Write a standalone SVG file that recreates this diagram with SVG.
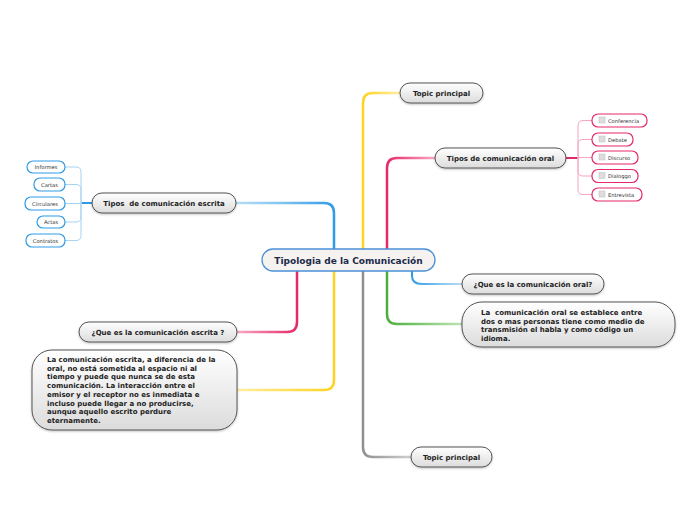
<svg xmlns="http://www.w3.org/2000/svg" width="696" height="520" viewBox="0 0 696 520">
<defs>
<linearGradient id="nodeFill" x1="0" y1="0" x2="0" y2="1">
<stop offset="0" stop-color="#ffffff"/><stop offset="1" stop-color="#dcdcdc"/>
</linearGradient>
<linearGradient id="gBlueL" x1="1" y1="0" x2="0" y2="0"><stop offset="0" stop-color="#2e9be6"/><stop offset="0.5" stop-color="#7cc1f0"/><stop offset="1" stop-color="#b8dcf5"/></linearGradient>
<linearGradient id="gBlueR" x1="0" y1="0" x2="1" y2="0"><stop offset="0" stop-color="#2e9be6"/><stop offset="0.5" stop-color="#7cc1f0"/><stop offset="1" stop-color="#b8dcf5"/></linearGradient>
<linearGradient id="gYelR" x1="0" y1="0" x2="1" y2="0"><stop offset="0" stop-color="#ffd21f"/><stop offset="1" stop-color="#ffeea0"/></linearGradient>
<linearGradient id="gYelL" x1="1" y1="0" x2="0" y2="0"><stop offset="0" stop-color="#ffd21f"/><stop offset="1" stop-color="#ffeea0"/></linearGradient>
<linearGradient id="gPinkR" x1="0" y1="0" x2="1" y2="0"><stop offset="0" stop-color="#e5286a"/><stop offset="1" stop-color="#f7a8c3"/></linearGradient>
<linearGradient id="gPinkL" x1="1" y1="0" x2="0" y2="0"><stop offset="0" stop-color="#e5286a"/><stop offset="1" stop-color="#f7a8c3"/></linearGradient>
<linearGradient id="gGreen" x1="0" y1="0" x2="1" y2="0"><stop offset="0" stop-color="#4caf3c"/><stop offset="1" stop-color="#bfe3b5"/></linearGradient>
<linearGradient id="gGray" x1="0" y1="0" x2="1" y2="0"><stop offset="0" stop-color="#8f8f8f"/><stop offset="1" stop-color="#cfcfcf"/></linearGradient>
<filter id="sh" x="-10%" y="-20%" width="120%" height="150%"><feDropShadow dx="0" dy="1" stdDeviation="0.8" flood-color="#000" flood-opacity="0.25"/></filter>
</defs>
<style>
.node rect{fill:url(#nodeFill);stroke:#555;stroke-width:1;filter:url(#sh)}
.t{font-family:"DejaVu Sans",Verdana,sans-serif;font-weight:bold;fill:#222;font-size:7px}
.c{text-anchor:middle}
.sub rect.b{fill:#fff;stroke-width:1.2}
.sb rect.b{stroke:#2e9be6}
.sp rect.b{stroke:#e5286a}
.s{font-family:"DejaVu Sans",Verdana,sans-serif;font-size:5.2px;fill:#333}
.chk{fill:#ddd;stroke:#bbb;stroke-width:0.5}
.conn path{fill:none;stroke-linecap:round}
</style>
<g id="connectors" class="conn">
<path d="M334,249 V213 Q334,203 324,203 H236" stroke="url(#gBlueL)" stroke-width="2.5"/>
<path d="M363,249 V103 Q363,93 373,93 H400" stroke="url(#gYelR)" stroke-width="2.5"/>
<path d="M387,249 V168 Q387,158 397,158 H435" stroke="url(#gPinkR)" stroke-width="2.5"/>
<path d="M412,271 V276 Q412,284 422,284 H462" stroke="url(#gBlueR)" stroke-width="2"/>
<path d="M387,271 V314 Q387,324 397,324 H462" stroke="url(#gGreen)" stroke-width="2.5"/>
<path d="M363,271 V447 Q363,457 373,457 H411" stroke="url(#gGray)" stroke-width="2.5"/>
<path d="M297,271 V322 Q297,332 287,332 H237" stroke="url(#gPinkL)" stroke-width="2.5"/>
<path d="M334,271 V380 Q334,390 324,390 H237" stroke="url(#gYelL)" stroke-width="2.5"/>
<path d="M566,158 H578" stroke="#e5286a" stroke-width="2"/>
<g stroke="#f4a6c0" stroke-width="1">
<path d="M578,158 V126 Q578,120.5 583,120.5 H592"/>
<path d="M578,158 V144 Q578,139.5 583,139.5 H592"/>
<path d="M578,157.5 H592"/>
<path d="M578,158 V171 Q578,176 583,176 H592"/>
<path d="M578,158 V189.5 Q578,194.5 583,194.5 H592"/>
</g>
<path d="M92,203 H82" stroke="#2e9be6" stroke-width="1.8"/>
<g stroke="#a6d3f3" stroke-width="1">
<path d="M81,203 V172 Q81,167 76,167 H65"/>
<path d="M81,203 V189.5 Q81,184.5 76,184.5 H65"/>
<path d="M81,203.5 H65"/>
<path d="M81,203 V217 Q81,222 76,222 H65"/>
<path d="M81,203 V235.5 Q81,240.5 76,240.5 H65"/>
</g>
</g>
<g id="central">
<rect x="262" y="249" width="173" height="22" rx="11" fill="#f5f2f0" stroke="#4a90d9" stroke-width="1.3"/>
<text class="t c" x="348.5" y="263.5" style="font-size:9px;fill:#1b2a4a">Tipologia de la Comunicación</text>
</g>
<g id="topic-top" class="node">
<rect x="400" y="83" width="83" height="20" rx="10"/>
<text class="t c" x="441.5" y="95.5">Topic principal</text>
</g>
<g id="oral-types" class="node">
<rect x="435" y="148" width="131" height="20" rx="10"/>
<text class="t c" x="500.5" y="160.5">Tipos de comunicación oral</text>
</g>
<g id="escrita-types" class="node">
<rect x="92" y="193" width="144" height="20" rx="10"/>
<text class="t c" x="164" y="205.5" xml:space="preserve">Tipos  de comunicación escrita</text>
</g>
<g id="que-oral" class="node">
<rect x="462" y="274" width="142" height="20" rx="10"/>
<text class="t c" x="533" y="286.5">¿Que es la comunicación oral?</text>
</g>
<g id="oral-def" class="node">
<rect x="462" y="302" width="213" height="45" rx="20"/>
<text class="t" x="481" y="315" xml:space="preserve"><tspan x="481">La  comunicación oral se establece entre</tspan><tspan x="481" dy="8.7">dos o mas personas tiene como medio de</tspan><tspan x="481" dy="8.7">transmisión el habla y como código un</tspan><tspan x="481" dy="8.7">idioma.</tspan></text>
</g>
<g id="que-escrita" class="node">
<rect x="79" y="322" width="158" height="20" rx="10"/>
<text class="t c" x="158" y="334.5">¿Que es la comunicación escrita ?</text>
</g>
<g id="escrita-def" class="node">
<rect x="32" y="350" width="205" height="80" rx="20"/>
<text class="t" x="47" y="362"><tspan x="47">La comunicación escrita, a diferencia de la</tspan><tspan x="47" dy="8.7">oral, no está sometida al espacio ni al</tspan><tspan x="47" dy="8.7">tiempo y puede que nunca se de esta</tspan><tspan x="47" dy="8.7">comunicación. La interacción entre el</tspan><tspan x="47" dy="8.7">emisor y el receptor no es inmediata e</tspan><tspan x="47" dy="8.7">incluso puede llegar a no producirse,</tspan><tspan x="47" dy="8.7">aunque aquello escrito perdure</tspan><tspan x="47" dy="8.7">eternamente.</tspan></text>
</g>
<g id="topic-bottom" class="node">
<rect x="411" y="447" width="81" height="20" rx="10"/>
<text class="t c" x="451.5" y="459.5">Topic principal</text>
</g>
<g id="informes" class="sub sb"><rect class="b" x="27" y="161" width="38" height="12" rx="6"/><text class="s c" x="46" y="169">Informes</text></g>
<g id="cartas" class="sub sb"><rect class="b" x="34" y="178" width="31" height="13" rx="6"/><text class="s c" x="49.5" y="186.5">Cartas</text></g>
<g id="circulares" class="sub sb"><rect class="b" x="25" y="197" width="40" height="13" rx="6"/><text class="s c" x="45" y="205.5">Circulares</text></g>
<g id="actas" class="sub sb"><rect class="b" x="37" y="216" width="28" height="12" rx="6"/><text class="s c" x="51" y="224">Actas</text></g>
<g id="contratos" class="sub sb"><rect class="b" x="26" y="234" width="39" height="13" rx="6"/><text class="s c" x="45.5" y="242.5">Contratos</text></g>
<g id="conferencia" class="sub sp"><rect class="b" x="592" y="114" width="55" height="13" rx="6"/><rect class="chk" x="599" y="117" width="6" height="6"/><text class="s" x="608" y="122.5">Conferencia</text></g>
<g id="debate" class="sub sp"><rect class="b" x="592" y="133" width="41" height="13" rx="6"/><rect class="chk" x="599" y="136" width="6" height="6"/><text class="s" x="608" y="141.5">Debate</text></g>
<g id="discurso" class="sub sp"><rect class="b" x="592" y="151" width="46" height="13" rx="6"/><rect class="chk" x="599" y="154" width="6" height="6"/><text class="s" x="608" y="159.5">Discurso</text></g>
<g id="dialoggo" class="sub sp"><rect class="b" x="592" y="169.5" width="46" height="13" rx="6"/><rect class="chk" x="599" y="172.5" width="6" height="6"/><text class="s" x="608" y="178">Dialoggo</text></g>
<g id="entrevista" class="sub sp"><rect class="b" x="592" y="188" width="50" height="13" rx="6"/><rect class="chk" x="599" y="191" width="6" height="6"/><text class="s" x="608" y="196.5">Entrevista</text></g>
</svg>
